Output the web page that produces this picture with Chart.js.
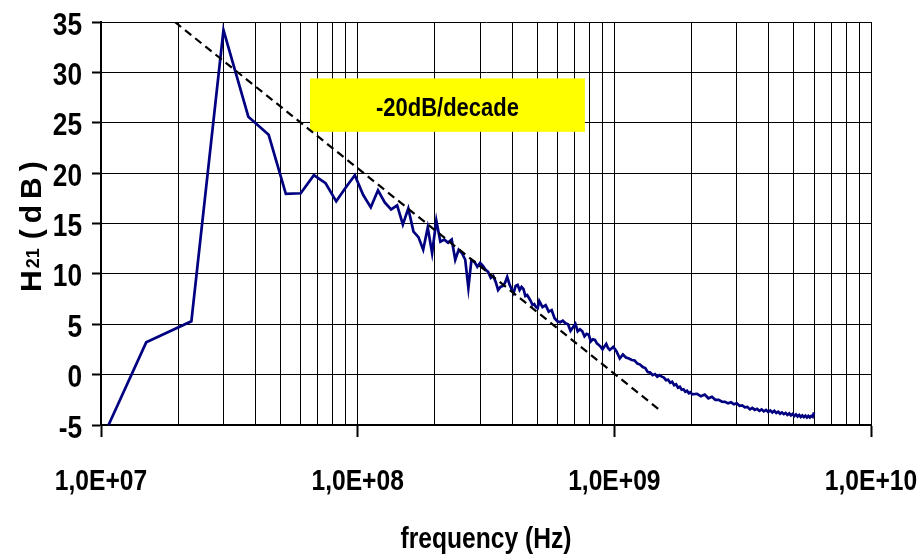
<!DOCTYPE html>
<html>
<head>
<meta charset="utf-8">
<script src="https://cdn.jsdelivr.net/npm/chart.js@4/dist/chart.umd.min.js"></script>
<style>
  html, body { margin: 0; padding: 0; background: #fff; }
  canvas { display: block; }
</style>
</head>
<body>
<canvas id="c" width="924" height="557"></canvas>
<script>
const FONT = '"Liberation Sans", Arial, sans-serif';
const NARROW = 0.82; // horizontal squeeze giving a narrow bold face

// Measured forward transmission H21 (dB) versus frequency (MHz)
const freqMHz = [
  10.7, 15, 22.5, 30, 37.5, 45, 52.5, 60, 67.5, 75, 82.5, 90, 97.5, 105, 112.5, 120, 127.5,
  135, 142.5, 150, 157.5, 165, 172.5, 180, 187.5, 195, 202.5, 210, 217.5, 225, 232.5, 240,
  247.5, 255, 262.5, 270, 277.5, 285, 292.5, 300, 307.5, 315, 322.5, 330, 337.5, 345, 352.5,
  360, 367.5, 375, 382.5, 390, 397.5, 405, 412.5, 420, 427.5, 435, 442.5, 450, 457.5, 465,
  472.5, 480, 487.5, 495, 502.5,
  510, 525, 540, 555, 570, 585, 600, 615, 630, 645, 660, 675, 690, 705, 720, 735, 750, 765,
  780, 795, 810, 825, 840, 855, 870, 885, 900, 915, 930, 945, 960, 975, 990, 1005,
  1020, 1050, 1080, 1110, 1140, 1170, 1200, 1230, 1260, 1290, 1320, 1350, 1380, 1410, 1440,
  1470, 1500, 1530, 1560, 1590, 1620, 1650, 1680, 1710, 1740, 1770, 1800, 1830, 1860, 1890,
  1920, 1950, 1980, 2010,
  2100, 2175, 2250, 2325, 2400, 2475, 2550, 2625, 2700, 2775, 2850, 2925, 3000, 3075, 3150,
  3225, 3300, 3375, 3450, 3525, 3600, 3675, 3750, 3825, 3900, 3975, 4050, 4125, 4200, 4275,
  4350, 4425, 4500, 4575, 4650, 4725, 4800, 4875, 4950, 5025, 5100, 5175, 5250, 5325, 5400,
  5475, 5550, 5625, 5700, 5775, 5850, 5925, 6000
];
const h21dB = [
  -5.0, 3.2, 5.3, 34.2, 25.6, 23.8, 17.95, 18.0, 19.8, 19.0, 17.2, 18.6, 19.8, 17.85, 16.6, 18.3, 17.1,
  16.4, 16.8, 14.9, 16.5, 14.2, 13.65, 12.4, 14.6, 12.05, 15.3, 13.2, 13.4, 13.1, 13.4, 11.4,
  12.4, 12.05, 11.4, 8.6, 11.4, 11.2, 10.7, 11.1, 10.8, 10.4, 10.2, 9.6, 9.8, 9.2, 8.4,
  8.7, 8.8, 9.1, 9.7, 9.0, 8.5, 8.1, 8.8, 8.9, 8.4, 8.7, 8.5, 7.8, 7.9, 7.6,
  7.3, 6.9, 7.0, 6.7, 6.6,
  7.3, 6.7, 6.9, 6.25, 6.4, 5.6, 5.3, 5.2, 5.35, 5.1, 5.0, 4.35, 4.7, 5.05, 4.3, 4.5, 4.3, 3.8,
  4.05, 3.95, 3.3, 3.5, 3.45, 3.1, 2.95, 2.75, 2.5, 2.8, 3.05, 2.65, 2.45, 2.6, 2.75, 2.55,
  2.3, 1.6, 2.0, 1.7, 1.6, 1.45, 1.4, 1.1, 1.0, 0.75, 0.65, 0.25, 0.2, -0.05, 0.05,
  -0.2, -0.05, -0.2, -0.3, -0.55, -0.5, -0.8, -0.7, -1.05, -0.95, -1.3, -1.2, -1.5, -1.45, -1.7,
  -1.6, -1.85, -1.75, -1.95,
  -1.9, -2.15, -1.98, -2.35, -2.2, -2.5, -2.5, -2.68, -2.7, -2.85, -2.75, -2.95, -2.85, -3.1, -3.05,
  -3.25, -3.2, -3.45, -3.3, -3.5, -3.4, -3.6, -3.45, -3.65, -3.5, -3.7, -3.55, -3.75, -3.6, -3.8,
  -3.68, -3.88, -3.75, -3.92, -3.8, -4.0, -3.85, -4.05, -3.9, -4.1, -3.95, -4.15, -4.0, -4.2, -4.05,
  -4.22, -4.08, -4.25, -4.1, -4.25, -4.1, -4.2, -3.75
];

// Asymptote drawn as a dashed reference line (Hz, dB)
const slopeFreqHz = [1.94e7, 1.5e9];
const slopeDB = [35, -3.5];
const slopeLabel = '-20dB/decade';

// Axis ticks and titles
const xDecades = [1e7, 1e8, 1e9, 1e10];
const xTickLabels = ['1,0E+07', '1,0E+08', '1,0E+09', '1,0E+10'];
const yTicks = [-5, 0, 5, 10, 15, 20, 25, 30, 35];
const xTitle = 'frequency (Hz)';

const h21Points = freqMHz.map((f, i) => ({ x: f * 1e6, y: h21dB[i] }));
const slopePoints = slopeFreqHz.map((f, i) => ({ x: f, y: slopeDB[i] }));

// every 1..9 x 10^n position gets a vertical grid line
const xGridValues = [];
for (let d = 0; d < xDecades.length - 1; d++) {
  for (let m = 1; m <= 9; m++) xGridValues.push(m * xDecades[d]);
}
xGridValues.push(xDecades[xDecades.length - 1]);

const isDecade = v => xDecades.some(d => Math.abs(d - v) / d < 1e-9);

// bold text squeezed horizontally
function narrowText(ctx, text, x, y, size, align, squeeze) {
  ctx.save();
  ctx.font = 'bold ' + size + 'px ' + FONT;
  ctx.textBaseline = 'alphabetic';
  ctx.textAlign = align;
  ctx.translate(x, y);
  ctx.scale(squeeze, 1);
  ctx.fillText(text, 0, 0);
  ctx.restore();
}

const overlay = {
  id: 'overlay',
  beforeDatasetsDraw(chart) {
    const { ctx, scales: { x, y } } = chart;
    // highlighted slope label
    const x0 = x.getPixelForValue(65.2e6), x1 = x.getPixelForValue(768e6);
    const y0 = y.getPixelForValue(29.4), y1 = y.getPixelForValue(24.1);
    ctx.save();
    ctx.fillStyle = '#ffff00';
    ctx.fillRect(x0, y0, x1 - x0, y1 - y0);
    ctx.fillStyle = '#000';
    narrowText(ctx, slopeLabel, (x0 + x1) / 2, y1 - 16, 25, 'center', 0.88);
    ctx.restore();
  },
  afterDraw(chart) {
    const { ctx, chartArea, scales: { x, y } } = chart;
    ctx.save();
    ctx.fillStyle = '#000';
    // tick labels
    xDecades.forEach((d, i) => {
      narrowText(ctx, xTickLabels[i], x.getPixelForValue(d), chartArea.bottom + 65, 30, 'center', NARROW);
    });
    yTicks.forEach(v => {
      narrowText(ctx, String(v), chartArea.left - 19, y.getPixelForValue(v) + 12.5, 32, 'right', NARROW);
    });
    // x axis title
    narrowText(ctx, xTitle, (chartArea.left + chartArea.right) / 2, 548, 30, 'center', NARROW);
    // y axis title, rotated, with subscript
    ctx.translate(41, 292);
    ctx.rotate(-Math.PI / 2);
    ctx.textAlign = 'left';
    ctx.textBaseline = 'alphabetic';
    ctx.font = 'bold 30px ' + FONT;
    let cx = 0;
    ctx.fillText('H', cx, 0);
    cx += ctx.measureText('H').width + 2;
    ctx.font = 'bold 18px ' + FONT;
    ctx.fillText('21', cx, -2);
    cx += ctx.measureText('21').width + 9;
    ctx.font = 'bold 30px ' + FONT;
    for (const ch of ['(', 'd', 'B', ')']) {
      ctx.fillText(ch, cx, 0);
      cx += ctx.measureText(ch).width + 6;
    }
    ctx.restore();
  }
};

new Chart(document.getElementById('c'), {
  type: 'line',
  data: {
    datasets: [
      {
        label: 'slope',
        data: slopePoints,
        borderColor: '#000',
        borderWidth: 2.2,
        borderDash: [8, 5],
        pointRadius: 0,
        tension: 0,
        order: 0
      },
      {
        label: 'H21',
        data: h21Points,
        borderColor: '#000080',
        borderWidth: 2.7,
        pointRadius: 0,
        tension: 0,
        order: 1
      }
    ]
  },
  options: {
    responsive: false,
    animation: false,
    devicePixelRatio: 1,
    layout: { padding: { left: 0, top: 22, right: 53, bottom: 0 } },
    plugins: { legend: { display: false }, tooltip: { enabled: false } },
    scales: {
      x: {
        type: 'logarithmic',
        min: 1e7,
        max: 1e10,
        afterBuildTicks: s => { s.ticks = xGridValues.map(v => ({ value: v })); },
        afterFit: s => { s.height = 132; s.paddingLeft = 0; s.paddingRight = 0; },
        ticks: { display: false, autoSkip: false },
        grid: {
          color: '#000',
          lineWidth: 1,
          tickLength: 12,
          tickWidth: 2,
          tickColor: c => (c.tick && isDecade(c.tick.value)) ? '#000' : 'rgba(0,0,0,0)'
        },
        border: { display: true, color: '#000', width: 2 }
      },
      y: {
        type: 'linear',
        min: -5,
        max: 35,
        afterBuildTicks: s => { s.ticks = yTicks.map(v => ({ value: v })); },
        afterFit: s => { s.width = 101; s.paddingTop = 0; s.paddingBottom = 0; },
        ticks: { display: false },
        grid: {
          color: '#000',
          lineWidth: 1,
          tickLength: 9,
          tickWidth: 2,
          tickColor: '#000'
        },
        border: { display: true, color: '#000', width: 2 }
      }
    }
  },
  plugins: [overlay]
});
</script>
</body>
</html>
